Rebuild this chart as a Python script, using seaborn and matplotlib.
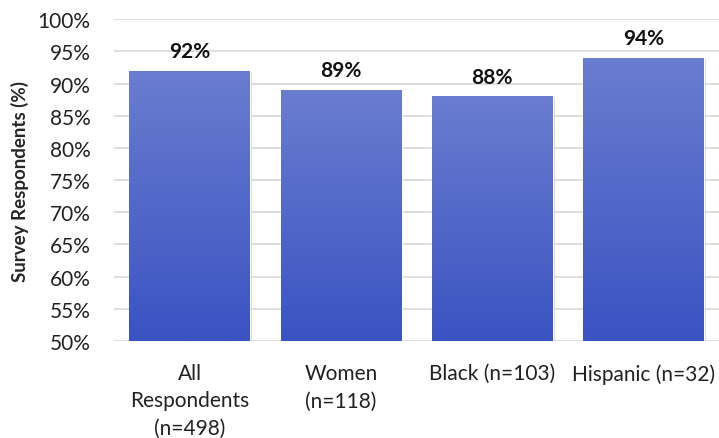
import numpy as np
import pandas as pd
import matplotlib.pyplot as plt
import seaborn as sns
from matplotlib.colors import LinearSegmentedColormap

groups = ["All\nRespondents\n(n=498)", "Women\n(n=118)", "Black (n=103)", "Hispanic (n=32)"]
values = [92, 89, 88, 94]
bar_labels = ["92%", "89%", "88%", "94%"]
yticks = [50, 55, 60, 65, 70, 75, 80, 85, 90, 95, 100]

df = pd.DataFrame({"group": groups, "value": values})

sns.set_style("white")
plt.rcParams["font.family"] = ["Lato", "DejaVu Sans"]

fig = plt.figure(figsize=(7.19, 4.39), dpi=100)
ax = fig.add_axes([0.159, 0.221, 0.841, 0.733])

sns.barplot(data=df, x="group", y="value", color="#4a63c9", width=0.8, ax=ax, zorder=3)

# vertical gradient fill for each bar (lighter top, darker bottom)
cmap = LinearSegmentedColormap.from_list("barfade", ["#3a53c2", "#6a7dd0"])
grad = np.linspace(0, 1, 256).reshape(-1, 1)
for patch in ax.patches:
    x0, y0 = patch.get_x(), patch.get_y()
    w, h = patch.get_width(), patch.get_height()
    # soft shadow
    ax.add_patch(plt.Rectangle((x0 + 0.012, 50), w, y0 + h - 50 - 0.15,
                               color="#b0b0b0", alpha=0.5, zorder=2, lw=0))
    img = ax.imshow(grad, extent=[x0, x0 + w, 50, y0 + h], origin="lower",
                    cmap=cmap, aspect="auto", zorder=4)
    img.set_clip_path(patch)

for i, (v, lab) in enumerate(zip(values, bar_labels)):
    ax.text(i, v + 1.5, lab, ha="center", va="bottom", fontsize=15,
            fontweight="bold", color="#111111", zorder=5)

ax.set_xlim(-0.5, 3.5)
ax.set_ylim(50, 100)
ax.set_yticks(yticks)
ax.set_yticklabels([f"{t}%" for t in yticks], fontsize=15, color="#222222")
for t in ax.get_xticklabels():
    t.set_linespacing(1.45)
ax.tick_params(axis="x", labelsize=15, colors="#222222", pad=16)
ax.tick_params(axis="y", pad=17)
ax.tick_params(length=0)
ax.yaxis.grid(True, color="#d9d9d9", lw=1.2, zorder=0)
ax.set_axisbelow(True)
for s in ["top", "right", "left", "bottom"]:
    ax.spines[s].set_visible(False)
ax.set_xlabel("")
ax.set_ylabel("Survey Respondents (%)", fontsize=13.5, fontweight="bold", labelpad=6)

fig.savefig("out.png", dpi=100)
